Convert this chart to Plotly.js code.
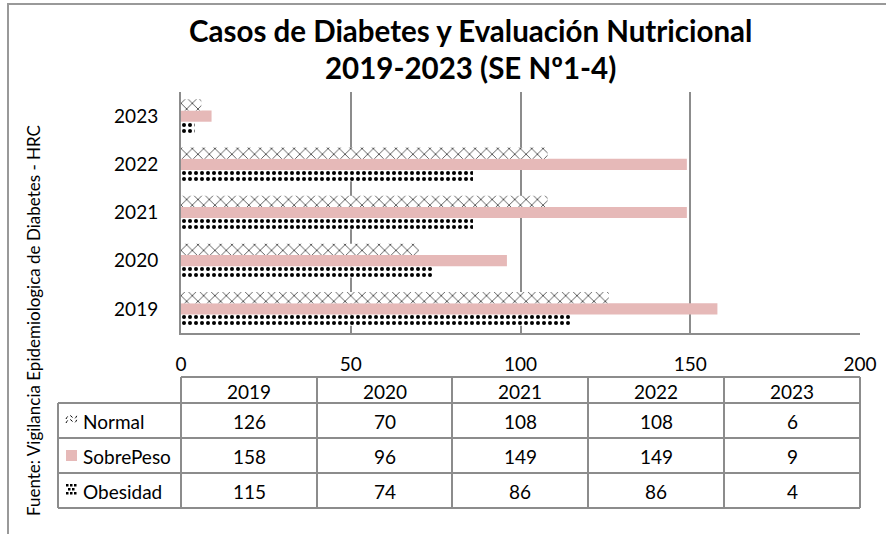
<!DOCTYPE html>
<html><head><meta charset="utf-8">
<script src="https://cdn.plot.ly/plotly-3.0.1.min.js"></script>
<style>html,body{margin:0;padding:0;background:#fff}#c{width:886px;height:534px}</style>
</head><body><div id="c"></div>
<script>
const years = ['2019','2020','2021','2022','2023'];
const seriesNames = ['Normal','SobrePeso','Obesidad'];
const normal = [126, 70, 108, 108, 6];
const sobrePeso = [158, 96, 149, 149, 9];
const obesidad = [115, 74, 86, 86, 4];
const xTicks = [0, 50, 100, 150, 200];

const W = 886, H = 534;
const L = 181, R = 860, T = 92, B = 333;
const px = x => (x - L) / (R - L);
const py = y => (B - y) / (B - T);
const FONT = 'Lato, "Open Sans", sans-serif';
const gray = '#8c8c8c';
const FS = 19;

const traces = [
  {type:'bar', orientation:'h', name:'Obesidad', y:years, x:obesidad,
   marker:{color:'#000', pattern:{shape:'.', fgcolor:'#000', bgcolor:'#fff', size:6, solidity:0.35}, line:{width:0}}},
  {type:'bar', orientation:'h', name:'SobrePeso', y:years, x:sobrePeso,
   marker:{color:'#E6B9B8', line:{width:0}}},
  {type:'bar', orientation:'h', name:'Normal', y:years, x:normal,
   marker:{color:'#000', pattern:{shape:'x', fgcolor:'#000', bgcolor:'#fff', size:8, solidity:0.15}, line:{width:0}}}
];

const shapes = [];
const ann = [];
const A = (x, y, text, extra) => Object.assign({xref:'paper', yref:'paper', x:px(x), y:py(y), text:text, showarrow:false,
  xanchor:'center', yanchor:'middle', font:{family:FONT, size:FS, color:'#000'}}, extra || {});

// outer chart border
shapes.push({type:'rect', xref:'paper', yref:'paper', x0:px(8), x1:px(900), y0:py(545), y1:py(4), line:{color:'#999', width:2}, fillcolor:'rgba(0,0,0,0)'});

// data table
const colX = [181, 317, 452, 588, 724, 860];
const rowY = [377, 403, 438, 473, 508];
const tl = {color:gray, width:2};
shapes.push({type:'line', xref:'paper', yref:'paper', x0:px(181), x1:px(860), y0:py(377), y1:py(377), line:tl});
for (let r = 1; r < rowY.length; r++) {
  shapes.push({type:'line', xref:'paper', yref:'paper', x0:px(58), x1:px(860), y0:py(rowY[r]), y1:py(rowY[r]), line:tl});
}
shapes.push({type:'line', xref:'paper', yref:'paper', x0:px(58), x1:px(58), y0:py(403), y1:py(508), line:tl});
colX.forEach(cx => shapes.push({type:'line', xref:'paper', yref:'paper', x0:px(cx), x1:px(cx), y0:py(377), y1:py(508), line:tl}));

years.forEach((yr, i) => {
  const cx = (colX[i] + colX[i+1]) / 2;
  ann.push(A(cx, (rowY[0]+rowY[1])/2 + 1, yr));
});
const vals = [normal, sobrePeso, obesidad];
vals.forEach((arr, r) => {
  const cy = (rowY[r+1] + rowY[r+2]) / 2 + 1;
  arr.forEach((v, i) => {
    const cx = (colX[i] + colX[i+1]) / 2;
    ann.push(A(cx, cy, String(v)));
  });
  ann.push(A(81, cy, seriesNames[r], {xanchor:'left'}));
});
// legend keys
shapes.push({type:'rect', xref:'paper', yref:'paper', x0:px(66), x1:px(77), y0:py(461), y1:py(450), fillcolor:'#E6B9B8', line:{width:0}});
shapes.push({type:'path', xref:'paper', yref:'paper',
  path:`M ${px(66)} ${py(419)} Q ${px(69)} ${py(413)} ${px(72)} ${py(417)} T ${px(77)} ${py(415)} M ${px(66)} ${py(423)} Q ${px(69)} ${py(417)} ${px(72)} ${py(421)} T ${px(77)} ${py(419)}`,
  line:{color:'#000', width:1, dash:'dot'}});
[[66,484],[70,484],[74,484],[68,488],[72,488],[66,492],[74,492],[70,492]].forEach(([x,y]) => {
  shapes.push({type:'rect', xref:'paper', yref:'paper', x0:px(x), x1:px(x+2.5), y0:py(y+2.5), y1:py(y), fillcolor:'#000', line:{width:0}});
});

// title
ann.push(A(470, 30, '<b>Casos de Diabetes y Evaluación Nutricional</b>', {font:{family:FONT, size:29.5, color:'#000'}}));
ann.push(A(470, 68, '<b>2019-2023 (SE Nº1-4)</b>', {font:{family:FONT, size:29.5, color:'#000'}}));
// source
ann.push(A(33, 321, 'Fuente: Vigilancia Epidemiologica de Diabetes - HRC', {textangle:-90, font:{family:FONT, size:17, color:'#000'}}));

const layout = {
  width: W, height: H,
  margin:{l:L, r:W-R, t:T, b:H-B, pad:0},
  paper_bgcolor:'#fff', plot_bgcolor:'#fff',
  showlegend:false,
  barmode:'group', bargap:0.3, bargroupgap:0,
  xaxis:{range:[0,200], tickvals:xTicks, ticktext:xTicks.map(String), showgrid:true, gridcolor:gray, gridwidth:2,
         showline:true, linecolor:gray, linewidth:2, mirror:false, zeroline:false, ticks:'', ticklabelstandoff:13,
         tickfont:{family:FONT, size:FS, color:'#000'}, fixedrange:true},
  yaxis:{type:'category', categoryorder:'array', categoryarray:years, showgrid:false, showline:true, linecolor:gray, linewidth:2,
         ticks:'', ticklabelstandoff:17, tickfont:{family:FONT, size:FS, color:'#000'}},
  shapes: shapes,
  annotations: ann
};
Plotly.newPlot('c', traces, layout, {displayModeBar:false, staticPlot:true});
</script></body></html>
